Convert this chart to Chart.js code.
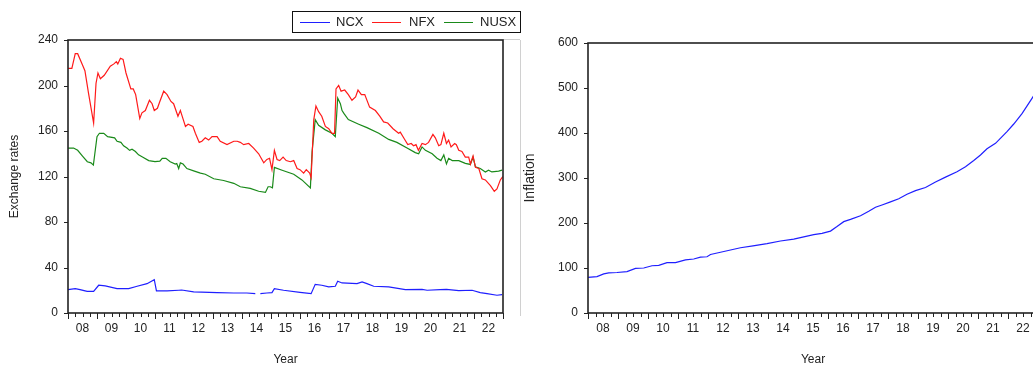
<!DOCTYPE html>
<html>
<head>
<meta charset="utf-8">
<script src="https://cdn.jsdelivr.net/npm/chart.js@4.4.1/dist/chart.umd.min.js"></script>
<style>
  html, body { margin: 0; padding: 0; background: #fff; }
  body { width: 1033px; height: 367px; overflow: hidden; position: relative; font-family: "Liberation Sans", Arial, sans-serif; }
  canvas { position: absolute; top: 0; }
  #legend { position: absolute; left: 292px; top: 11px; width: 227px; height: 20px; border: 1px solid #111; font-size: 13px; color: #222; }
  #legend span { position: absolute; top: 2px; }
  #legend i { position: absolute; top: 10px; height: 1px; }
  .sep { position: absolute; background: #d0d0d0; }
</style>
</head>
<body>
<div class="sep" style="left:520px; top:40px; width:1px; height:276px;"></div>
<div class="sep" style="left:503px; top:39px; width:17px; height:1px;"></div>
<canvas id="chart-1" width="520" height="367" style="left:0"></canvas>
<canvas id="chart-2" width="518" height="367" style="left:520px"></canvas>
<div id="legend">
  <i style="left:7px; width:30px; background:#1f1fff"></i><span style="left:43px">NCX</span>
  <i style="left:79px; width:29px; background:#ff1a1a"></i><span style="left:116px">NFX</span>
  <i style="left:151px; width:29px; background:#1a8a1a"></i><span style="left:187px">NUSX</span>
</div>
<script>
// x values are month indexes counted from Jan 2008 (0) to Dec 2022 (180)
const yearLabels = ["08", "09", "10", "11", "12", "13", "14", "15", "16", "17", "18", "19", "20", "21", "22"];
const rateTicks = [0, 40, 80, 120, 160, 200, 240];
const inflTicks = [0, 100, 200, 300, 400, 500, 600];

const ncxPoints = [
  [0, 20.5], [3, 21.4], [5, 20.5], [7.9, 19], [10.6, 19], [12.7, 24.4], [15.4, 23.8], [20.3, 21.4],
  [25.1, 21.4], [28.6, 23.5], [32.7, 25.8], [35.7, 29.3], [36.6, 19.4], [41, 19.4], [45.8, 20],
  [47, 20.2], [52, 18.5], [61.7, 17.9], [68.6, 17.6], [74, 17.6], [77.5, 17], [78.5, null],
  [79.6, 17], [82.3, 17.6], [84.4, 17.9], [85.4, 21.4], [89.2, 20], [96, 18.2], [100.6, 17],
  [102.3, 25.2], [105, 24.4], [107.9, 22.9], [110.6, 23.5], [111.6, 27.9], [113.4, 26.4],
  [119.6, 25.8], [121.7, 27.3], [123.7, 25.8], [126.5, 23.5], [132.7, 22.9], [139.6, 20.5],
  [146.5, 20.8], [148.6, 20], [154, 20.5], [156.6, 20.8], [161.7, 19.7], [167.2, 20],
  [170.6, 17.9], [173.4, 17], [177.5, 15.6], [179.6, 16.1]
];

const nfxPoints = [
  [0, 215], [1.6, 215], [3, 228], [4, 228], [6, 218], [7, 213], [8.5, 193], [10.6, 167], [11.6, 202],
  [12.4, 211], [13.4, 206], [15, 209], [17.5, 217], [19, 219], [20, 221], [20.6, 219], [21.7, 224],
  [22.8, 223], [24, 211], [26, 197], [27, 197], [28, 192], [29.7, 171], [30.6, 176], [32, 178],
  [33.7, 187], [34.8, 184], [35.7, 178], [37, 180], [38, 186], [39.6, 195], [41, 192], [42.6, 186],
  [43.7, 184], [45.5, 173], [46.5, 178], [47.4, 172], [48.6, 164], [49.7, 166], [51.7, 164],
  [52.7, 158], [54.3, 150], [55.4, 151], [56.8, 154], [58.2, 152], [59.6, 155], [61.7, 155],
  [63, 151], [65.8, 148], [68.6, 151], [70, 151], [71.3, 150], [72.7, 148], [74.8, 149], [76.8, 145],
  [78.9, 140], [81, 132], [82.3, 135], [83.4, 136], [84.4, 126], [85.4, 143], [86.5, 135],
  [87.6, 134], [89, 137], [90.3, 134], [92, 133], [93.4, 134], [94.8, 127], [96, 126], [97.5, 123],
  [98.6, 126], [100, 123], [100.6, 119], [101.7, 170], [102.6, 182], [103.7, 177], [105, 173],
  [106.5, 164], [107.9, 162], [109.2, 158], [110.3, 158], [110.9, 197], [112, 200], [113, 195],
  [114.5, 196], [116, 192], [117.5, 187], [119, 190], [120, 196], [121.4, 192], [122.8, 192],
  [124.8, 181], [127.2, 178], [129, 173], [130.6, 168], [132.3, 167], [134.5, 162], [136.8, 158],
  [137.5, 159], [139.2, 153], [140.6, 148], [142, 149], [143, 147], [144, 148], [145, 143],
  [146.5, 149], [147.9, 148], [149.2, 150], [151, 157], [152, 154], [153.4, 147], [154.3, 148],
  [155.5, 158], [156.6, 149], [157.5, 152], [158.5, 146], [160, 149], [160.7, 148], [161.7, 143],
  [163, 142], [164.4, 137], [165.8, 137], [166.5, 131], [167.6, 138], [168.6, 128], [170, 127],
  [171.3, 118], [172.7, 117], [174.8, 112], [176.4, 107], [177.5, 109], [178.9, 117], [179.9, 120]
];

const nusxPoints = [
  [0, 145], [2.3, 145], [4, 143], [6, 138], [8, 133], [9.5, 132], [10.5, 130], [12, 155], [13, 158],
  [14.8, 158], [16.4, 155], [19.3, 154], [20.3, 151], [21.9, 150], [23, 147], [24.4, 145],
  [25.5, 143], [26.5, 144], [27.9, 142], [29.2, 139], [31, 137], [33.4, 134], [36, 133],
  [38, 133.5], [39, 136], [40.5, 136], [42.3, 133], [44.4, 131], [45, 131.5], [45.8, 127],
  [46.5, 132], [47.6, 131], [49.2, 127], [52, 125], [54.8, 123], [56.8, 122], [60.3, 118],
  [64.4, 116.5], [68.6, 114], [71.3, 111], [75.4, 109.5], [78.9, 107], [81.7, 106], [82.8, 111],
  [83.7, 111], [84.6, 110], [85.4, 128], [88.6, 125.5], [93.4, 122], [96.8, 117], [100.3, 110],
  [101, 141.7], [102.3, 170], [103.7, 165], [106.5, 161], [109.2, 158], [110.6, 155], [111.6, 189],
  [112.7, 184], [113.4, 178], [114.3, 175], [116, 170], [120.3, 166], [123.7, 163], [128.6, 158],
  [132.7, 152.6], [136.1, 150], [140.3, 145], [143.7, 141], [145.1, 140], [146.5, 146], [147.9, 143],
  [150.7, 140], [152.7, 136], [154.3, 134], [155.5, 139], [156.6, 131], [157.5, 136], [159, 134],
  [161.7, 134], [164.4, 131.5], [166.5, 130.6], [167.6, 137], [168.6, 128.5], [170.6, 127],
  [172.7, 124], [174, 125.6], [175.4, 124], [178.2, 124.7], [179.6, 125.6]
];

const inflationPoints = [
  [0, 79], [3.6, 81], [6.3, 87], [8.3, 89], [11.6, 90], [15.6, 92], [19, 99], [22.3, 100], [25.6, 105],
  [28.3, 106], [31.6, 112], [35, 112], [39, 118], [42.3, 120], [45, 124], [47.6, 125], [49, 130],
  [53, 135], [57, 140], [61, 145], [66, 149], [71.6, 154], [77, 160], [82.3, 164], [86.3, 169],
  [90.3, 174], [93.6, 177], [97, 182], [99.6, 192], [102.3, 203], [105, 208], [109, 216],
  [112.3, 226], [115, 235], [117.6, 240], [121, 247], [124.3, 254], [127.6, 264], [131, 272],
  [135, 279], [139, 291], [143, 302], [147.6, 314], [151, 325], [154.3, 339], [157, 351],
  [159.6, 365], [163, 377], [167.6, 403], [170.3, 420], [173.6, 443], [177.6, 477], [179, 489]
];

const toXY = pts => pts.map(p => ({ x: p[0], y: p[1] }));
const axisColor = "#222";
const font = { size: 12, family: "'Liberation Sans', Arial, sans-serif" };

// box round the plot, year/quarter marks on x, marks at each y label
const framePlugin = {
  id: "frame",
  afterDraw(chart) {
    const { ctx, chartArea: a, scales } = chart;
    ctx.save();
    ctx.strokeStyle = axisColor;
    ctx.lineWidth = 1.6;
    ctx.strokeRect(a.left, a.top, a.right - a.left, a.bottom - a.top);
    ctx.lineWidth = 1;
    ctx.beginPath();
    for (let m = 0; m <= 180; m += 3) {
      const x = Math.round(scales.x.getPixelForValue(m)) + 0.5;
      ctx.moveTo(x, a.bottom);
      ctx.lineTo(x, a.bottom + (m % 12 === 0 ? 6 : 4));
    }
    scales.y.ticks.forEach(t => {
      const y = Math.round(scales.y.getPixelForValue(t.value)) + 0.5;
      ctx.moveTo(a.left - 4, y);
      ctx.lineTo(a.left, y);
    });
    ctx.stroke();
    ctx.restore();
  }
};

function xScale() {
  return {
    type: "linear",
    min: 0,
    max: 180,
    afterBuildTicks: s => { s.ticks = yearLabels.map((l, i) => ({ value: 6 + 12 * i })); },
    afterFit: s => { s.height = 54; },
    grid: { display: false, drawTicks: false },
    border: { display: false },
    ticks: {
      autoSkip: false,
      maxRotation: 0,
      padding: 8,
      color: axisColor,
      font: font,
      callback: (v) => yearLabels[Math.round((v - 6) / 12)]
    },
    title: { display: true, text: "Year", color: axisColor, font: font, padding: { top: 0, bottom: 0 } }
  };
}

function yScale(max, ticksList, title, titleSize, titlePad) {
  return {
    min: 0,
    max: max,
    afterBuildTicks: s => { s.ticks = ticksList.map(v => ({ value: v })); },
    afterFit: s => { s.width = 68; },
    grid: { display: false, drawTicks: false },
    border: { display: false },
    ticks: { padding: 10, color: axisColor, font: font },
    title: { display: true, text: title, color: axisColor, font: { size: titleSize, family: font.family }, padding: { top: titlePad, bottom: 0 } }
  };
}

function lineSet(label, pts, color) {
  return {
    label: label,
    data: toXY(pts),
    borderColor: color,
    borderWidth: 1.2,
    pointRadius: 0,
    tension: 0,
    spanGaps: false,
    fill: false
  };
}

new Chart(document.getElementById("chart-1"), {
  type: "line",
  data: {
    datasets: [
      lineSet("NCX", ncxPoints, "#1f1fff"),
      lineSet("NFX", nfxPoints, "#ff1a1a"),
      lineSet("NUSX", nusxPoints, "#1a8a1a")
    ]
  },
  options: {
    responsive: false,
    animation: false,
    layout: { padding: { top: 40, right: 17, left: 0, bottom: 0 } },
    plugins: { legend: { display: false }, tooltip: { enabled: false } },
    scales: {
      x: xScale(),
      y: yScale(240, rateTicks, "Exchange rates", 12, 7)
    }
  },
  plugins: [framePlugin]
});

new Chart(document.getElementById("chart-2"), {
  type: "line",
  data: {
    datasets: [lineSet("Inflation", inflationPoints, "#1f1fff")]
  },
  options: {
    responsive: false,
    animation: false,
    layout: { padding: { top: 43, right: 0, left: 0, bottom: 0 } },
    plugins: { legend: { display: false }, tooltip: { enabled: false } },
    scales: {
      x: xScale(),
      y: yScale(600, inflTicks, "Inflation", 14, 2)
    }
  },
  plugins: [framePlugin]
});
</script>
</body>
</html>
